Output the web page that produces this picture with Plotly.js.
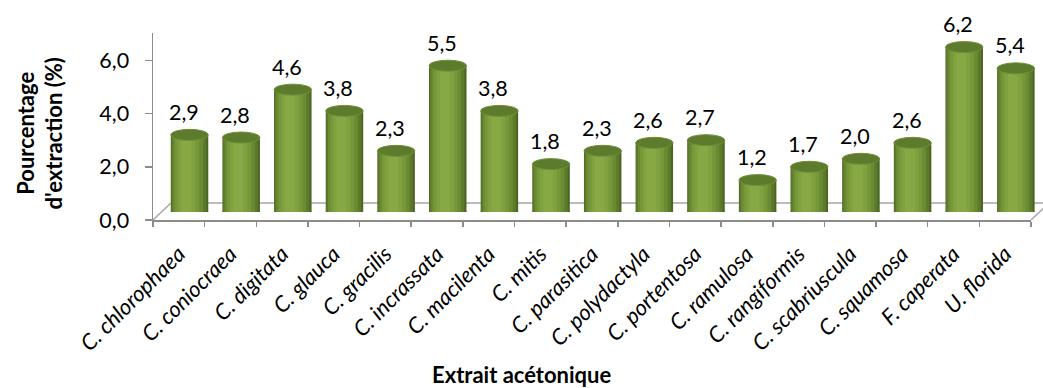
<!DOCTYPE html>
<html>
<head>
<meta charset="utf-8">
<script src="https://cdn.plot.ly/plotly-3.0.1.min.js"></script>
<style>
  html, body { margin: 0; padding: 0; background: #ffffff; }
  #chart { width: 1043px; height: 388px; }
</style>
</head>
<body>
<div id="chart"></div>
<script>
// ---- data ----
const categories = ['C. chlorophaea', 'C. coniocraea', 'C. digitata', 'C. glauca', 'C. gracilis',
  'C. incrassata', 'C. macilenta', 'C. mitis', 'C. parasitica', 'C. polydactyla', 'C. portentosa',
  'C. ramulosa', 'C. rangiformis', 'C. scabriuscula', 'C. squamosa', 'F. caperata', 'U. florida'];
const values = [2.9, 2.8, 4.6, 3.8, 2.3, 5.5, 3.8, 1.8, 2.3, 2.6, 2.7, 1.2, 1.7, 2.0, 2.6, 6.2, 5.4];
const yTickVals = [0, 2, 4, 6];
const xTitle = 'Extrait acétonique';
const yTitle = "Pourcentage<br>d'extraction (%)";

// ---- geometry (pixels) ----
const W = 1043, H = 388;
const L = 153, R = 0, T = 33, B = 168;
const plotW = W - L - R;       // 890
const plotH = H - T - B;       // 187
const frontW = 878;            // width of front axis
const depthDX = 10.7, depthDY = 8;   // bar offset (mid depth)
const floorDX = 18, floorDY = 17;    // back edge of floor
const pxPerUnit = 26.6;
const FONT = 'Lato, "Open Sans", sans-serif';
const FS = 21.5;
const FS_X = 22;
const FS_T = 22;

const fmt = v => v.toFixed(1).replace('.', ',');

// cylinder shading layers: [width fraction, centre shift fraction, colour]
const BW = 0.726;
const layers = [
  [1.00, 0.00, '#4c6522'],
  [0.93, -0.02, '#5b7a2a'],
  [0.80, -0.04, '#6a8a33'],
  [0.64, -0.06, '#779839'],
  [0.46, -0.07, '#80a140'],
  [0.26, -0.08, '#87a845']
];

const traces = [];
// invisible trace to set up the front category axis
traces.push({
  type: 'scatter', x: categories, y: values.map(() => 0), xaxis: 'x', yaxis: 'y',
  mode: 'markers', marker: {opacity: 0}, hoverinfo: 'skip', showlegend: false
});
layers.forEach(([wf, sf, col]) => {
  const w = BW * wf;
  traces.push({
    type: 'bar', x: categories, y: values, xaxis: 'x2', yaxis: 'y2',
    width: w, offset: BW * sf - w / 2,
    marker: {color: col, line: {width: 0}},
    hoverinfo: 'skip', showlegend: false
  });
});

const shapes = [];
const floorCol = '#a6a6a6';
const fx = floorDX / plotW, fy = floorDY / plotH;
shapes.push({type: 'line', xref: 'paper', yref: 'paper', x0: 0, y0: 0, x1: fx, y1: fy,
  line: {color: floorCol, width: 1.5}, layer: 'below'});
shapes.push({type: 'line', xref: 'paper', yref: 'paper', x0: fx, y0: fy, x1: frontW / plotW + fx, y1: fy,
  line: {color: floorCol, width: 1.5}, layer: 'below'});
shapes.push({type: 'line', xref: 'paper', yref: 'paper', x0: frontW / plotW, y0: 0, x1: frontW / plotW + fx, y1: fy,
  line: {color: floorCol, width: 1.5}, layer: 'below'});

values.forEach((v, i) => {
  // bottom rounded ends
  layers.forEach(([wf, sf, col]) => {
    const w = BW * wf, c = i + BW * sf;
    shapes.push({type: 'circle', xref: 'x2', yref: 'y2', ysizemode: 'pixel', yanchor: 0,
      x0: c - w / 2, x1: c + w / 2, y0: -5, y1: 5,
      fillcolor: col, line: {width: 0}, layer: 'below'});
  });
  // top face
  shapes.push({type: 'circle', xref: 'x2', yref: 'y2', ysizemode: 'pixel', yanchor: v,
    x0: i - BW / 2, x1: i + BW / 2, y0: -5.5, y1: 5.5,
    fillcolor: '#5d7b2c', line: {color: '#6f8e38', width: 1}, layer: 'above'});
});

const annotations = values.map((v, i) => ({
  xref: 'x2', yref: 'y2', x: i, y: v, text: fmt(v), showarrow: false,
  xshift: -6, yshift: 23, yanchor: 'middle', xanchor: 'center',
  font: {family: FONT, size: FS, color: '#000000'}
}));
annotations.push({
  xref: 'paper', yref: 'paper', x: (521.7 - L) / plotW, y: (T + plotH - 374) / plotH,
  text: '<b>' + xTitle + '</b>', showarrow: false, xanchor: 'center', yanchor: 'middle',
  font: {family: FONT, size: FS_T, color: '#000000'}
});
annotations.push({
  xref: 'paper', yref: 'paper', x: (39 - L) / plotW, y: (T + plotH - 133.5) / plotH,
  text: '<b>' + yTitle + '</b>', showarrow: false, textangle: -90, xanchor: 'center', yanchor: 'middle',
  font: {family: FONT, size: FS_T, color: '#000000'}
});

const axisCol = '#8c8c8c';
const layout = {
  width: W, height: H,
  margin: {l: L, r: R, t: T, b: B, pad: 0},
  paper_bgcolor: '#ffffff', plot_bgcolor: 'rgba(0,0,0,0)',
  separators: ', ',
  showlegend: false,
  barmode: 'overlay',
  xaxis: {
    type: 'category', domain: [0, frontW / plotW], range: [-0.5, categories.length - 0.5],
    anchor: 'y', showline: true, linecolor: axisCol, linewidth: 1.5,
    ticks: 'outside', tickson: 'boundaries', ticklen: 5, tickcolor: axisCol, tickwidth: 1.5,
    tickangle: -45, tickmode: 'array', tickvals: categories,
    ticktext: categories.map(c => '<i>' + c + '</i>'),
    tickfont: {family: FONT, size: FS_X, color: '#000000'},
    ticklabelstandoff: 11,
    showgrid: false, zeroline: false, fixedrange: true, automargin: false
  },
  yaxis: {
    domain: [0, 1], range: [0, plotH / pxPerUnit], anchor: 'x',
    showline: true, linecolor: axisCol, linewidth: 1.5,
    ticks: 'outside', ticklen: 7, tickcolor: axisCol, tickwidth: 1.5,
    tickmode: 'array', tickvals: yTickVals, tickformat: '.1f',
    tickfont: {family: FONT, size: FS, color: '#000000'},
    ticklabelstandoff: 11,
    showgrid: false, zeroline: false, fixedrange: true, automargin: false
  },
  xaxis2: {
    type: 'category', domain: [depthDX / plotW, (frontW + depthDX) / plotW],
    range: [-0.5, categories.length - 0.5], anchor: 'y2', visible: false, fixedrange: true
  },
  yaxis2: {
    domain: [depthDY / plotH, 1], range: [0, (plotH - depthDY) / pxPerUnit], anchor: 'x2',
    visible: false, fixedrange: true
  },
  shapes: shapes,
  annotations: annotations
};

Plotly.newPlot('chart', traces, layout, {displayModeBar: false, staticPlot: true});
</script>
</body>
</html>
